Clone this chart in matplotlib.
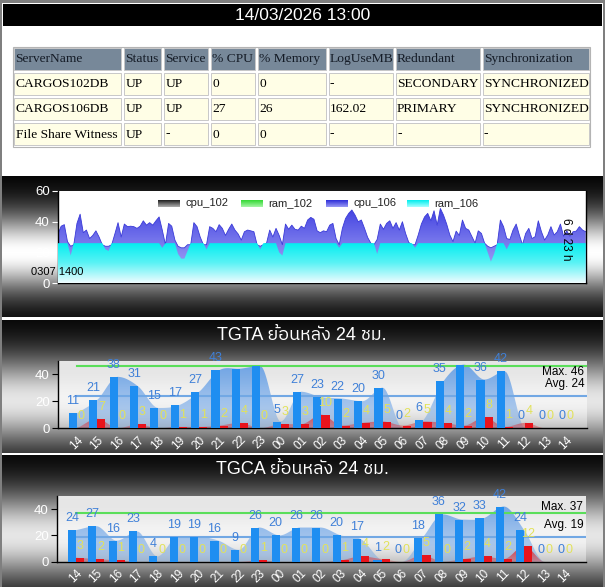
import numpy as np
import matplotlib
matplotlib.use('Agg')
import matplotlib.pyplot as plt
from matplotlib import font_manager
from matplotlib.ft2font import FT2Font
from matplotlib.patches import Rectangle, Polygon
from matplotlib.transforms import blended_transform_factory

W, H = 605, 587

# ---------------- data ----------------
report_time = '14/03/2026 13:00'

table_header = ['ServerName', 'Status', 'Service', '% CPU', '% Memory', 'LogUseMB', 'Redundant', 'Synchronization']
table_rows = [
    ['CARGOS102DB', 'UP', 'UP', '0', '0', '-', 'SECONDARY', 'SYNCHRONIZED'],
    ['CARGOS106DB', 'UP', 'UP', '27', '26', '162.02', 'PRIMARY', 'SYNCHRONIZED'],
    ['File Share Witness', 'UP', '-', '0', '0', '-', '-', '-'],
]

trend_series = ['cpu_102', 'ram_102', 'cpu_106', 'ram_106']
trend_start = '0307 1400'
trend_span = '6 d 23 h'
# hourly samples over 7 days
cpu_106 = [
    32, 37, 38, 27, 24, 25, 38.8, 44.8, 32.8, 34.5, 29, 31,
    34, 30, 25, 24, 24, 25, 32, 39.3, 30, 38.4, 36.7, 37,
    36.7, 35.6, 37, 40.5, 37.7, 39.3, 37.7, 40.5, 43, 34.5, 25, 38.8,
    37, 28, 24, 23, 23, 25, 25, 39.3, 36.7, 30, 25, 25,
    36.7, 35.6, 33.4, 38, 35.6, 31, 35, 38.4, 34.5, 32, 28, 33.4,
    34.5, 34, 33.4, 25, 24, 25, 26, 34.5, 30, 35.6, 31, 25,
    38.4, 35, 37.7, 35, 34.5, 37, 35.6, 41, 42.7, 41.5, 34, 32.8,
    34, 33.4, 37.7, 38.8, 29, 25, 35.6, 42, 45.3, 47.5, 44.2, 39.9,
    41, 35.6, 29.7, 26, 25, 28.4, 38.4, 35, 38.8, 40.5, 35.6, 39.3,
    34.5, 39.9, 32.3, 26.5, 25, 25, 31.3, 38.4, 43, 45.3, 40.5, 47,
    37.7, 48.5, 44.2, 38.4, 31.3, 27, 33.8, 31, 41, 35.6, 34.5, 30.2,
    26, 34, 32.3, 26, 24, 23, 24, 25, 41, 36.7, 29, 28.4,
    34.5, 38.4, 31.3, 25, 32.3, 35.6, 29, 30.2, 40.5, 33.4, 28, 31.3,
    36.7, 31.3, 33.4, 38.4, 30.5, 34, 30.5, 33.4, 33.8, 36.7, 34.5, 33.4,
]
ram_106 = [
    26, 26, 26, 26, 18, 26, 26, 26, 26, 26, 26, 26,
    26, 26, 26, 22, 21, 26, 26, 26, 26, 26, 26, 26,
    26, 26, 26, 26, 26, 26, 26, 26, 26, 23, 26, 26,
    26, 26, 19, 16, 16, 21, 26, 26, 26, 26, 26, 22,
    26, 26, 26, 26, 26, 26, 26, 26, 26, 26, 26, 26,
    26, 26, 26, 26, 22, 26, 26, 26, 26, 26, 20, 18,
    26, 26, 26, 26, 26, 26, 26, 26, 26, 26, 26, 26,
    26, 26, 26, 26, 26, 23, 26, 26, 26, 26, 26, 26,
    26, 26, 26, 26, 26, 19, 26, 26, 26, 26, 26, 26,
    26, 26, 26, 26, 26, 23, 26, 26, 26, 26, 26, 26,
    26, 26, 26, 26, 26, 26, 26, 26, 26, 26, 26, 26,
    26, 26, 26, 26, 20, 14, 19, 26, 26, 26, 22, 26,
    26, 26, 26, 26, 26, 26, 26, 26, 26, 26, 26, 26,
    26, 26, 26, 26, 26, 26, 26, 26, 26, 26, 26, 26,
]

hours = ['14', '15', '16', '17', '18', '19', '20', '21', '22', '23', '00', '01',
         '02', '03', '04', '05', '06', '07', '08', '09', '10', '11', '12', '13', '14']

tgta_blue = [11, 21, 38, 31, 15, 17, 27, 43, 44, 46, 5, 27, 23, 22, 20, 30, 0, 6, 35, 47, 36, 42, 0, 0, 0]
tgta_red = [0, 7, 0, 3, 0, 1, 1, 2, 4, 0, 3, 3, 10, 2, 4, 5, 2, 5, 4, 2, 8, 1, 4, 0, 0]
tgta_max, tgta_avg = 46, 24

tgca_blue = [24, 27, 16, 23, 4, 19, 19, 16, 9, 26, 20, 26, 26, 20, 17, 1, 0, 18, 36, 32, 33, 42, 24, 0, 0]
tgca_red = [3, 2, 1, 0, 0, 0, 0, 0, 0, 1, 0, 0, 0, 1, 4, 2, 0, 5, 0, 2, 4, 2, 12, 0, 0]
tgca_max, tgca_avg = 37, 19


# ---------------- fonts ----------------
def family_for(ch):
    fl = font_manager.fontManager.ttflist
    cands = [f for f in fl if 'thai' in f.name.lower()] + list(fl)
    seen = set()
    for f in cands:
        if f.fname in seen:
            continue
        seen.add(f.fname)
        try:
            if ord(ch) in FT2Font(f.fname).get_charmap():
                return f.name
        except Exception:
            continue
    return None


SANS = 'Liberation Sans'
thai = family_for('\u0e22')
fams = [SANS, 'DejaVu Sans'] + ([thai] if thai else [])
plt.rcParams['font.family'] = fams

fig = plt.figure(figsize=(W / 100, H / 100), dpi=100)

# background: border, title bar, metallic panels
bg = np.ones((H, W, 3))


def panel(y0, y1, yc, w, peak=1.0):
    g = peak * np.exp(-((np.arange(y0, y1) - yc) / w) ** 2)
    bg[y0:y1, 2:W - 2, :] = g[:, None, None]


panel(176, 317, 252, 40)
panel(320, 453, 400, 45, 0.9)
panel(455, H, 535, 45, 0.9)
bg[:, :2] = 0.5
bg[:, -2:] = 0.5
bg[:3, :] = 0.5
bg[4:26, 3:W - 3] = 0.0

base = fig.add_axes([0, 0, 1, 1])
base.imshow(bg, extent=(0, W, H, 0), interpolation='nearest', aspect='auto')
base.set_xlim(0, W)
base.set_ylim(H, 0)
base.axis('off')

fig.text(302.5 / W, 1 - 15.5 / H, report_time, color='white', fontsize=12.5,
         ha='center', va='center', family=SANS)

# table
col_x = [12.5, 122.5, 162.5, 209.5, 256, 327, 394, 481, 590]
row_y = [46.5, 71, 96.5, 121.5, 146.5]
base.add_patch(Rectangle((col_x[0], row_y[0]), col_x[-1] - col_x[0], row_y[-1] - row_y[0],
                         fill=False, edgecolor='#b4b4b4', lw=0.8))
for r, cells in enumerate([table_header] + table_rows):
    for c, txt in enumerate(cells):
        x0, x1 = col_x[c], col_x[c + 1]
        y0, y1 = row_y[r], row_y[r + 1]
        fc = '#778899' if r == 0 else '#fffee6'
        base.add_patch(Rectangle((x0 + 1.5, y0 + 1.5), x1 - x0 - 3, y1 - y0 - 3,
                                 facecolor=fc, edgecolor='#c8c8c8', lw=0.7))
        base.text(x0 + 3, (y0 + y1) / 2 + 0.5, txt, family='Liberation Serif', fontsize=9.7,
                  ha='left', va='center', color='#141b26' if r == 0 else 'black')


def px_axes(x0, y0, x1, y1):
    return fig.add_axes([x0 / W, 1 - y1 / H, (x1 - x0) / W, (y1 - y0) / H])


def gradient_fill(ax, x, y, stops, zorder):
    x = np.asarray(x, float)
    y = np.asarray(y, float)
    verts = np.column_stack([np.r_[x[0], x, x[-1]], np.r_[0, y, 0]])
    poly = Polygon(verts, closed=True, facecolor='none', edgecolor='none')
    ax.add_patch(poly)
    lv = np.array([s[0] for s in stops], float)
    cols = np.array([s[1] for s in stops], float)
    grid = np.linspace(lv[0], lv[-1], 256)
    img = np.stack([np.interp(grid, lv, cols[:, k]) for k in range(4)], axis=1)
    im = ax.imshow(img[:, None, :], extent=[x[0], x[-1], lv[0], lv[-1]], origin='lower',
                   aspect='auto', interpolation='bilinear', zorder=zorder)
    im.set_clip_path(poly)


def smooth(ys, n=16):
    ys = np.asarray(ys, float)
    m = np.zeros_like(ys)
    m[1:-1] = (ys[2:] - ys[:-2]) / 2
    m[0] = ys[1] - ys[0]
    m[-1] = ys[-1] - ys[-2]
    for i in range(1, len(ys) - 1):
        if (ys[i] - ys[i - 1]) * (ys[i + 1] - ys[i]) <= 0:
            m[i] = 0
    t = np.linspace(0, 1, n, endpoint=False)
    h00 = 2 * t ** 3 - 3 * t ** 2 + 1
    h10 = t ** 3 - 2 * t ** 2 + t
    h01 = -2 * t ** 3 + 3 * t ** 2
    h11 = t ** 3 - t ** 2
    sx, sy = [], []
    for i in range(len(ys) - 1):
        sx.append(i + t)
        sy.append(h00 * ys[i] + h10 * m[i] + h01 * ys[i + 1] + h11 * m[i + 1])
    sx.append([len(ys) - 1])
    sy.append([ys[-1]])
    return np.concatenate(sx), np.clip(np.concatenate(sy), 0, None)


# ---------------- trend chart ----------------
ax1 = px_axes(58, 190.7, 585.7, 283.3)
ax1.set_facecolor('white')
hrs = np.arange(len(cpu_106))
gradient_fill(ax1, hrs, cpu_106, [(0, (0.72, 0.72, 0.98, 1)), (60, (0.15, 0.15, 0.86, 1))], 2)
ax1.plot(hrs, cpu_106, color='#3a3ad8', lw=0.6, zorder=2.5)
gradient_fill(ax1, hrs, ram_106, [(0, (0.94, 0.99, 1, 1)), (13, (0.35, 0.95, 0.96, 1)),
                                  (26, (0.0, 0.93, 0.94, 1))], 3)
ax1.set_xlim(0, len(cpu_106) - 1)
ax1.set_ylim(0, 60)
ax1.set_xticks([])
ax1.set_yticks([0, 20, 40, 60])
ax1.tick_params(axis='y', colors='white', labelsize=9.5, length=4, pad=2)
ax1.spines['top'].set_visible(False)
for s in ('left', 'bottom', 'right'):
    ax1.spines[s].set_color('black')
    ax1.spines[s].set_linewidth(1)

legend_cols = [((0.12, 0.12, 0.12), (0.68, 0.68, 0.68)),
               ((0.2, 0.85, 0.2), (0.65, 0.96, 0.65)),
               ((0.18, 0.18, 0.85), (0.6, 0.6, 0.96)),
               ((0.0, 0.93, 0.93), (0.65, 1.0, 1.0))]
legend_px = [158, 241, 326, 407]
for name, (ctop, cbot), lx in zip(trend_series, legend_cols, legend_px):
    lax = px_axes(lx, 200, lx + 22, 207)
    t = np.linspace(0, 1, 32)[:, None]
    g = np.array(ctop)[None, :] * (1 - t) + np.array(cbot)[None, :] * t
    lax.imshow(g[:, None, :], aspect='auto', interpolation='bilinear')
    lax.axis('off')
    fig.text((lx + 27) / W, 1 - 203.5 / H, name, fontsize=8, color='#222222',
             ha='left', va='center')

fig.text(31 / W, 1 - 272 / H, trend_start, fontsize=8, color='black', ha='left', va='center')
fig.text(566 / W, 1 - 239 / H, trend_span, fontsize=8.5, color='black', rotation=270,
         ha='center', va='center')


# ---------------- hourly charts ----------------
def hourly_chart(box, title, title_y, blue, red, mx, avg):
    ax = px_axes(*box)
    ax.set_facecolor('none')
    idx = np.arange(len(hours))
    xl = (-0.93, 25.03)
    pb = np.ones((256, 1, 4))
    pb[:, 0, 3] = np.linspace(0.35, 0.85, 256)
    ax.imshow(pb, extent=[xl[0], xl[1], 0, 50], origin='lower', aspect='auto', zorder=0)

    sx, sy = smooth(blue)
    gradient_fill(ax, sx, sy, [(0, (0.3, 0.57, 0.9, 0.3)), (50, (0.3, 0.57, 0.9, 0.8))], 1)
    rx, ry = smooth(red)
    gradient_fill(ax, rx, ry, [(0, (0.9, 0.1, 0.12, 0.3)), (12, (0.9, 0.1, 0.12, 0.85))], 2)

    ax.plot([0, xl[1]], [mx, mx], color='#5ade5a', lw=1.5, zorder=1.5)
    ax.plot([0, xl[1]], [avg, avg], color='#72a8e4', lw=1.5, zorder=1.5)

    ax.bar(idx - 0.2, blue, 0.4, color='#1f8ef1', zorder=3)
    ax.bar(idx + 0.2, red, 0.4, color='#e8141c', zorder=3)
    for i in idx:
        # labels that would spill over the top of the plot are dropped, as in the chart
        if blue[i] <= 43:
            ax.annotate(str(blue[i]), (i - 0.2, blue[i]), xytext=(0, 12), textcoords='offset pixels',
                        ha='center', va='center', color='#3f80d8', fontsize=9, zorder=5)
        ax.annotate(str(red[i]), (i + 0.2, red[i]), xytext=(0, 12), textcoords='offset pixels',
                    ha='center', va='center', color='#e2e25a', fontsize=9, zorder=5)

    tr = blended_transform_factory(ax.transAxes, ax.transData)
    ax.text(0.995, min(mx + 9, 41.8), f'Max. {mx}', transform=tr, ha='right', va='center',
            fontsize=8.5, color='black', zorder=6)
    ax.text(0.995, avg + 9, f'Avg. {avg}', transform=tr, ha='right', va='center',
            fontsize=8.5, color='black', zorder=6)

    ax.set_xlim(*xl)
    ax.set_ylim(0, 50)
    ax.set_xticks(idx)
    ax.set_xticklabels(hours, rotation=45, ha='right', rotation_mode='anchor',
                       color='white', fontsize=8.5)
    ax.tick_params(axis='x', length=0, pad=4)
    ax.set_yticks([0, 20, 40])
    ax.tick_params(axis='y', labelcolor='white', labelsize=9.5, length=4, color='black', pad=2)
    for s in ('top', 'right'):
        ax.spines[s].set_visible(False)
    for s in ('left', 'bottom'):
        ax.spines[s].set_color('black')
        ax.spines[s].set_linewidth(1)

    fig.text(302 / W, 1 - title_y / H, title, color='white', fontsize=13,
             ha='center', va='center', family=fams)


hourly_chart((58, 360.6, 587, 428.3), 'TGTA ย้อนหลัง 24 ชม.', 335, tgta_blue, tgta_red, tgta_max, tgta_avg)
hourly_chart((57, 496, 586, 561.7), 'TGCA ย้อนหลัง 24 ชม.', 470, tgca_blue, tgca_red, tgca_max, tgca_avg)

fig.savefig('out.png', dpi=100)
